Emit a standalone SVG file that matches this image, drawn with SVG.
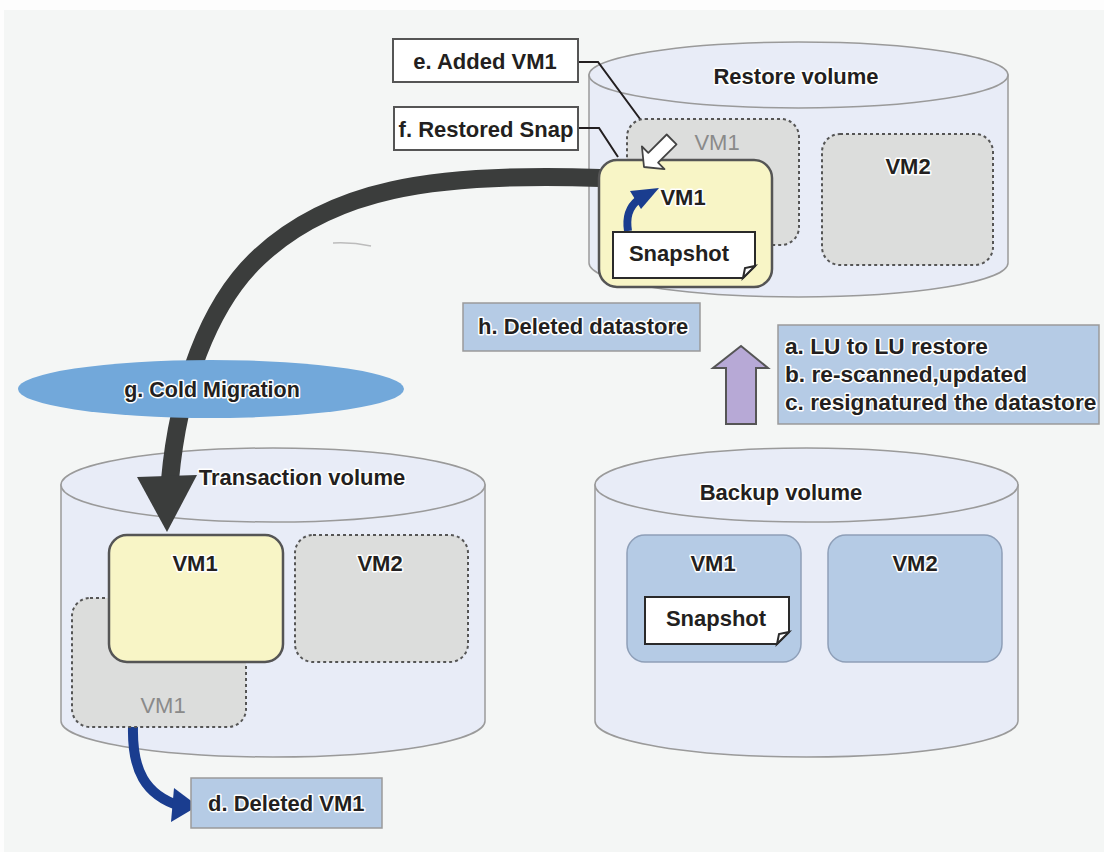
<svg xmlns="http://www.w3.org/2000/svg" width="1104" height="852" viewBox="0 0 1104 852">
<style>
.t{font-family:"Liberation Sans",Arial,sans-serif;font-size:22px;font-weight:bold;fill:#231f20;stroke:#fff;stroke-width:3;paint-order:stroke;stroke-linejoin:round}
.tg{font-family:"Liberation Sans",Arial,sans-serif;font-size:22px;fill:#8a8a8a}
.c{text-anchor:middle}
.cyl{fill:#e8ecf7;stroke:#9a9a9a;stroke-width:1.5}
.yel{fill:#f8f5c6;stroke:#555;stroke-width:2.5}
.gry{fill:#dcdddc;stroke:#555;stroke-width:2;stroke-dasharray:3 3}
.blu{fill:#b5cbe5;stroke:#9a9a9a;stroke-width:1.5}
.bvm{fill:#b5cbe5;stroke:#8e9fb8;stroke-width:1.5}
.wht{fill:#fff;stroke:#555;stroke-width:2}
.note{fill:#fff;stroke:#2a2a2a;stroke-width:2}
.lead{fill:none;stroke:#231f20;stroke-width:2}
</style>
<rect x="0" y="0" width="1104" height="852" fill="#fdfdfd"/>
<rect x="4" y="10" width="1100" height="842" fill="#f4f6f5"/>
<path d="M333 243 Q352 242 371 246" fill="none" stroke="#bcbcbc" stroke-width="1.5"/>

<g id="restore-volume">
<path class="cyl" d="M589 75 L589 263 A209.5 34 0 0 0 1008 263 L1008 75 Z"/>
<ellipse class="cyl" cx="798.5" cy="75" rx="209.5" ry="33"/>
<text class="t c" x="796" y="84">Restore volume</text>
</g>
<g id="transaction-volume">
<path class="cyl" d="M61 485 L61 721 A212 36 0 0 0 485 721 L485 485 Z"/>
<ellipse class="cyl" cx="273" cy="485" rx="212" ry="37"/>
</g>
<g id="backup-volume">
<path class="cyl" d="M595 485 L595 721 A211.5 36 0 0 0 1018 721 L1018 485 Z"/>
<ellipse class="cyl" cx="806.5" cy="485" rx="211.5" ry="37"/>
<text class="t c" x="781" y="500">Backup volume</text>
</g>

<g id="connectors">
<path d="M600 178 C430 172 330 190 258 258 C208 305 178 390 170 480" fill="none" stroke="#3b3d3c" stroke-width="18"/>
<polygon points="137,477 197,475 167,532" fill="#3b3d3c"/>
<path class="lead" d="M579 62 H598 L657 142"/>
<path class="lead" d="M579 128 H599 L618 157"/>
<path d="M133 727 C132 770 145 795 180 806" fill="none" stroke="#1a3d8f" stroke-width="10"/>
<polygon points="198,806 174,788 171,822" fill="#1a3d8f"/>
<polygon points="741,346 768,368 756,368 756,424 726,424 726,368 713,368" fill="#b7a9d6" stroke="#555" stroke-width="2"/>
</g>

<g id="restore-vm1-ghost">
<rect class="gry" x="627" y="119" width="172" height="126" rx="18"/>
<text class="tg c" x="717" y="150">VM1</text>
</g>
<g id="restore-vm2">
<rect class="gry" x="822" y="134" width="171" height="131" rx="18"/>
<text class="t c" x="908" y="174">VM2</text>
</g>
<g id="restore-vm1">
<rect class="yel" x="599" y="160" width="173" height="127" rx="18"/>
<text class="t c" x="683" y="205">VM1</text>
<path d="M628 231 C626 218 628 208 638 200" fill="none" stroke="#1a3d8f" stroke-width="8"/>
<polygon points="630,191 659,188 641,209" fill="#1a3d8f"/>
<path class="note" d="M613 232 H755 V266 L743 278 H613 Z"/>
<path class="note" d="M755 266 L743 278 L745 268 Z"/>
<text class="t c" x="679" y="261">Snapshot</text>
</g>
<g id="added-arrow">
<polygon points="644,167 664.5,169.1 658.1,162.7 676.5,144.3 666.7,134.5 648.3,152.9 641.9,146.5" fill="#fff" stroke="#444" stroke-width="1.8" stroke-linejoin="round"/>
</g>

<g id="label-e">
<rect class="wht" x="393" y="39" width="185" height="43"/>
<text class="t c" x="485" y="69">e. Added VM1</text>
</g>
<g id="label-f">
<rect class="wht" x="394" y="107" width="184" height="43"/>
<text class="t c" x="486" y="137">f. Restored Snap</text>
</g>
<g id="label-h">
<rect class="blu" x="463" y="303" width="237" height="48"/>
<text class="t" x="478" y="334">h. Deleted datastore</text>
</g>
<g id="label-abc">
<rect class="blu" x="778" y="325" width="321" height="99"/>
<text class="t" x="785" y="354" style="font-size:22.7px">a. LU to LU restore</text>
<text class="t" x="785" y="382" style="font-size:22.7px">b. re-scanned,updated</text>
<text class="t" x="785" y="410" style="font-size:22.7px">c. resignatured the datastore</text>
</g>

<g id="trans-vm1-ghost">
<rect class="gry" x="72" y="598" width="174" height="129" rx="18"/>
<text class="tg c" x="163" y="713">VM1</text>
</g>
<g id="trans-vm1">
<rect class="yel" x="109" y="535" width="174" height="127" rx="18"/>
<text class="t c" x="195" y="571">VM1</text>
</g>
<g id="trans-vm2">
<rect class="gry" x="295" y="535" width="173" height="127" rx="18"/>
<text class="t c" x="380" y="571">VM2</text>
</g>
<g id="transaction-title">
<text class="t c" x="302" y="485">Transaction volume</text>
</g>

<g id="backup-vm1">
<rect class="bvm" x="627" y="535" width="174" height="127" rx="18"/>
<text class="t c" x="713" y="571">VM1</text>
<path class="note" d="M645 597 H789 V632 L777 644 H645 Z"/>
<path class="note" d="M789 632 L777 644 L779 634 Z"/>
<text class="t c" x="716" y="626">Snapshot</text>
</g>
<g id="backup-vm2">
<rect class="bvm" x="828" y="535" width="174" height="127" rx="18"/>
<text class="t c" x="915" y="571">VM2</text>
</g>

<g id="label-g">
<ellipse cx="211" cy="389" rx="193" ry="29" fill="#72a8da"/>
<text class="t c" x="212" y="397" style="font-size:21.5px">g. Cold Migration</text>
</g>
<g id="label-d">
<rect class="blu" x="191" y="778" width="191" height="50"/>
<text class="t" x="208" y="811">d. Deleted VM1</text>
</g>
</svg>
